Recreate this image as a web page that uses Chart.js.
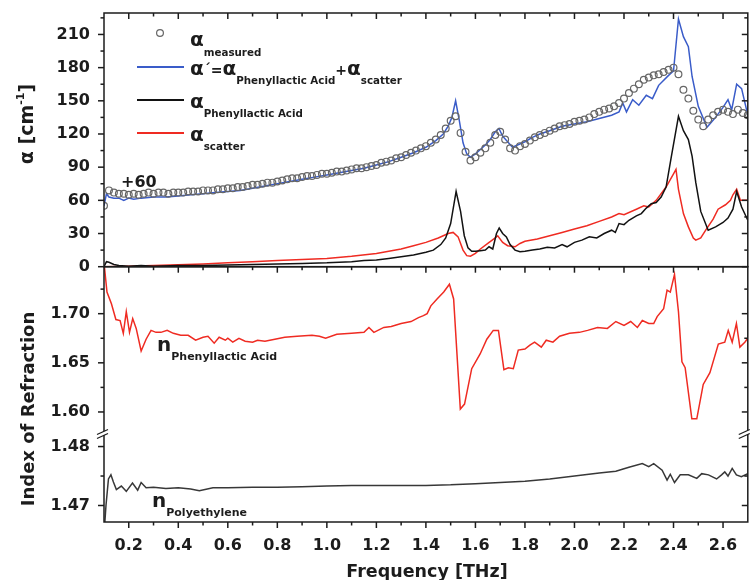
<!DOCTYPE html>
<html>
<head>
<meta charset="utf-8">
<script src="https://cdn.jsdelivr.net/npm/chart.js@4.4.0/dist/chart.umd.min.js"></script>
<style>
  html, body { margin: 0; padding: 0; background: #fff; }
  canvas { display: block; width: 753px; height: 580px; }
</style>
</head>
<body>
<canvas id="chart" width="753" height="580"></canvas>
<script>
const FONT = '"DejaVu Sans", sans-serif';
const INK = '#1c1c1c';

// tick labels
const freqTicks = [0.2, 0.4, 0.6, 0.8, 1.0, 1.2, 1.4, 1.6, 1.8, 2.0, 2.2, 2.4, 2.6];
const alphaTicks = [0, 30, 60, 90, 120, 150, 180, 210];
const nUpperTicks = [1.60, 1.65, 1.70];
const nLowerTicks = [1.47, 1.48];

// alpha measured (circles)
const measFreq = [
  0.10, 0.12, 0.14, 0.16, 0.18, 0.20, 0.22, 0.24, 0.26, 0.28,
  0.30, 0.32, 0.34, 0.36, 0.38, 0.40, 0.42, 0.44, 0.46, 0.48,
  0.50, 0.52, 0.54, 0.56, 0.58, 0.60, 0.62, 0.64, 0.66, 0.68,
  0.70, 0.72, 0.74, 0.76, 0.78, 0.80, 0.82, 0.84, 0.86, 0.88,
  0.90, 0.92, 0.94, 0.96, 0.98, 1.00, 1.02, 1.04, 1.06, 1.08,
  1.10, 1.12, 1.14, 1.16, 1.18, 1.20, 1.22, 1.24, 1.26, 1.28,
  1.30, 1.32, 1.34, 1.36, 1.38, 1.40, 1.42, 1.44, 1.46, 1.48,
  1.50, 1.52, 1.54, 1.56, 1.58, 1.60, 1.62, 1.64, 1.66, 1.68,
  1.70, 1.72, 1.74, 1.76, 1.78, 1.80, 1.82, 1.84, 1.86, 1.88,
  1.90, 1.92, 1.94, 1.96, 1.98, 2.00, 2.02, 2.04, 2.06, 2.08,
  2.10, 2.12, 2.14, 2.16, 2.18, 2.20, 2.22, 2.24, 2.26, 2.28,
  2.30, 2.32, 2.34, 2.36, 2.38, 2.40, 2.42, 2.44, 2.46, 2.48,
  2.50, 2.52, 2.54, 2.56, 2.58, 2.60, 2.62, 2.64, 2.66, 2.68,
  2.70
];
const alphaMeasured = [
  55, 69, 67, 66, 66, 65, 66, 65, 66, 67,
  66, 67, 67, 66, 67, 67, 67, 68, 68, 68,
  69, 69, 69, 70, 70, 71, 71, 72, 72, 73,
  74, 74, 75, 76, 76, 77, 78, 79, 80, 80,
  81, 82, 82, 83, 84, 84, 85, 86, 86, 87,
  88, 89, 89, 90, 91, 92, 94, 95, 96, 98,
  99, 101, 103, 105, 107, 109, 112, 115, 119, 125,
  132, 136, 121, 104, 96, 99, 103, 107, 112, 119,
  122, 115, 107, 105, 109, 111, 114, 117, 119, 121,
  123, 125, 127, 128, 129, 131, 132, 133, 135, 138,
  140, 142, 143, 145, 148, 152, 157, 161, 165, 169,
  171, 173, 174, 176, 178, 180, 174, 160, 152, 141,
  133, 127, 133, 137, 140, 142, 140, 138, 142, 139,
  137
];

// alpha' = alpha PLA + alpha scatter (blue)
const sumFreq = [
  0.10, 0.11, 0.12, 0.14, 0.16, 0.18, 0.20, 0.22, 0.25, 0.30,
  0.35, 0.40, 0.45, 0.50, 0.55, 0.60, 0.65, 0.70, 0.75, 0.80,
  0.85, 0.90, 0.95, 1.00, 1.05, 1.10, 1.15, 1.20, 1.25, 1.30,
  1.35, 1.40, 1.44, 1.47, 1.49, 1.505, 1.52, 1.535, 1.55, 1.565,
  1.58, 1.60, 1.62, 1.64, 1.66, 1.68, 1.695, 1.71, 1.73, 1.75,
  1.77, 1.80, 1.83, 1.86, 1.90, 1.95, 2.00, 2.05, 2.10, 2.15,
  2.18, 2.195, 2.21, 2.235, 2.26, 2.29, 2.315, 2.34, 2.38, 2.40,
  2.42, 2.44, 2.46, 2.475, 2.50, 2.535, 2.57, 2.60, 2.62, 2.635,
  2.655, 2.675, 2.70
];
const alphaSum = [
  55, 66, 63, 62, 62, 60, 62, 61, 62, 63,
  63, 64, 65, 66, 67, 68, 69, 71, 73, 75,
  77, 79, 81, 83, 85, 87, 89, 92, 95, 99,
  103, 108, 114, 120, 127, 135, 150, 132, 112, 102,
  99, 102, 106, 110, 115, 122, 125, 118, 113, 108,
  110, 113, 117, 120, 123, 127, 129, 131, 134, 137,
  140, 148, 140, 151, 146, 155, 152, 164, 173, 177,
  224, 208, 199, 172, 145, 126, 135, 144, 151, 142,
  165, 161, 137
];

// alpha Phenyllactic Acid (black)
const plaFreq = [
  0.10, 0.11, 0.12, 0.14, 0.16, 0.20, 0.25, 0.30, 0.40, 0.50,
  0.60, 0.70, 0.80, 0.90, 1.00, 1.10, 1.15, 1.20, 1.25, 1.30,
  1.35, 1.40, 1.43, 1.46, 1.48, 1.50, 1.522, 1.54, 1.555, 1.57,
  1.585, 1.60, 1.62, 1.64, 1.655, 1.67, 1.685, 1.696, 1.71, 1.725,
  1.74, 1.76, 1.78, 1.80, 1.83, 1.86, 1.89, 1.92, 1.95, 1.97,
  2.00, 2.03, 2.06, 2.09, 2.12, 2.15, 2.165, 2.18, 2.20, 2.22,
  2.25, 2.27, 2.29, 2.31, 2.33, 2.35, 2.37, 2.39, 2.42, 2.44,
  2.46, 2.475, 2.49, 2.51, 2.54, 2.57, 2.60, 2.62, 2.64, 2.655,
  2.675, 2.70
];
const alphaPLA = [
  0, 4.5, 4, 2, 1, 0.5, 1, 0.5, 1, 1,
  1.5, 2, 2.5, 3, 3.5, 4.5, 5.5, 6, 7.5, 9,
  10.5, 13, 15, 20, 26, 39, 68, 50, 28, 17,
  14, 14, 14.5, 15, 18, 16, 30, 35, 30, 27,
  20, 15, 13.5, 14, 15, 16, 17.5, 17, 20, 18,
  22, 24, 27, 26, 30, 33, 31, 39, 38, 42,
  46, 48, 53, 57, 58, 63, 72, 98, 136, 123,
  115, 100, 76, 50, 33, 36, 40, 44, 52, 68,
  54, 42
];

// alpha scatter (red)
const scatFreq = [
  0.10, 0.20, 0.30, 0.40, 0.50, 0.60, 0.70, 0.80, 0.90, 1.00,
  1.10, 1.20, 1.25, 1.30, 1.35, 1.40, 1.45, 1.49, 1.51, 1.53,
  1.55, 1.565, 1.58, 1.60, 1.62, 1.65, 1.68, 1.69, 1.71, 1.73,
  1.76, 1.78, 1.80, 1.85, 1.90, 1.95, 2.00, 2.05, 2.10, 2.15,
  2.18, 2.20, 2.25, 2.28, 2.30, 2.33, 2.37, 2.40, 2.41, 2.42,
  2.44, 2.46, 2.48, 2.49, 2.51, 2.53, 2.56, 2.58, 2.61, 2.63,
  2.64, 2.655, 2.67, 2.70
];
const alphaScatter = [
  0, 0.5, 1, 1.8, 2.5, 3.5, 4.5, 5.5, 6.5, 7.5,
  9.5, 12, 14, 16, 19, 22, 26, 30, 31, 27,
  15, 10, 9.5, 12, 16, 21, 26, 28, 22, 19,
  18, 21, 23, 25, 28, 31, 34, 37, 41, 45,
  48, 47, 52, 55, 54, 60, 72, 84, 88, 70,
  48, 36, 26, 24, 26, 33, 43, 52, 56, 60,
  65, 70, 60, 60
];

// n Phenyllactic Acid (red, lower panel)
const nPLAFreq = [
  0.100, 0.112, 0.130, 0.148, 0.165, 0.178, 0.190, 0.203, 0.216, 0.230,
  0.250, 0.270, 0.290, 0.310, 0.330, 0.355, 0.380, 0.410, 0.440, 0.470,
  0.500, 0.520, 0.545, 0.565, 0.590, 0.600, 0.620, 0.645, 0.670, 0.700,
  0.720, 0.750, 0.790, 0.830, 0.880, 0.940, 0.970, 0.995, 1.040, 1.100,
  1.150, 1.170, 1.190, 1.230, 1.260, 1.300, 1.340, 1.370, 1.390, 1.405,
  1.420, 1.445, 1.472, 1.495, 1.512, 1.539, 1.556, 1.585, 1.619, 1.646,
  1.672, 1.693, 1.715, 1.733, 1.753, 1.773, 1.800, 1.820, 1.839, 1.866,
  1.886, 1.913, 1.940, 1.980, 2.020, 2.053, 2.093, 2.133, 2.167, 2.200,
  2.227, 2.254, 2.274, 2.300, 2.320, 2.334, 2.360, 2.374, 2.387, 2.404,
  2.420, 2.434, 2.447, 2.474, 2.494, 2.520, 2.547, 2.581, 2.607, 2.621,
  2.637, 2.654, 2.668, 2.688, 2.700
];
const nPLA = [
  1.752, 1.722, 1.710, 1.694, 1.693, 1.680, 1.702, 1.681, 1.695, 1.685,
  1.662, 1.674, 1.683, 1.681, 1.681, 1.683, 1.680, 1.678, 1.678, 1.673,
  1.676, 1.677, 1.670, 1.676, 1.673, 1.675, 1.671, 1.675, 1.672, 1.671,
  1.673, 1.672, 1.674, 1.676, 1.677, 1.678, 1.677, 1.675, 1.679, 1.680,
  1.681, 1.686, 1.681, 1.686, 1.687, 1.690, 1.692, 1.696, 1.698, 1.700,
  1.708, 1.715, 1.722, 1.730, 1.715, 1.603, 1.608, 1.644, 1.659, 1.674,
  1.683, 1.683, 1.643, 1.645, 1.644, 1.663, 1.664, 1.668, 1.671, 1.666,
  1.673, 1.671, 1.677, 1.680, 1.681, 1.683, 1.686, 1.685, 1.692, 1.688,
  1.692, 1.686, 1.693, 1.690, 1.690, 1.697, 1.705, 1.724, 1.722, 1.740,
  1.702, 1.651, 1.645, 1.593, 1.593, 1.628, 1.640, 1.669, 1.671, 1.683,
  1.671, 1.690, 1.666, 1.671, 1.675
];

// n Polyethylene (dark grey, bottom)
const nPEFreq = [
  0.100, 0.108, 0.118, 0.128, 0.138, 0.150, 0.170, 0.190, 0.215, 0.236,
  0.250, 0.270, 0.300, 0.350, 0.400, 0.450, 0.485, 0.540, 0.600, 0.700,
  0.800, 0.900, 1.000, 1.100, 1.200, 1.300, 1.400, 1.500, 1.600, 1.700,
  1.800, 1.900, 2.000, 2.100, 2.167, 2.220, 2.274, 2.300, 2.320, 2.354,
  2.374, 2.387, 2.404, 2.427, 2.460, 2.494, 2.514, 2.541, 2.574, 2.594,
  2.607, 2.620, 2.637, 2.654, 2.674, 2.700
];
const nPE = [
  1.4650, 1.4700, 1.4745, 1.4752, 1.4740, 1.4727, 1.4733, 1.4724, 1.4738, 1.4726,
  1.4739, 1.4730, 1.4731, 1.4729, 1.4730, 1.4728, 1.4725, 1.4730, 1.4730, 1.4731,
  1.4731, 1.4732, 1.4733, 1.4734, 1.4734, 1.4734, 1.4734, 1.4735, 1.4737, 1.4739,
  1.4741, 1.4745, 1.4750, 1.4755, 1.4758, 1.4765, 1.4771, 1.4766, 1.4771, 1.4760,
  1.4743, 1.4753, 1.4739, 1.4752, 1.4752, 1.4746, 1.4754, 1.4752, 1.4745, 1.4752,
  1.4757, 1.4750, 1.4763, 1.4752, 1.4749, 1.4754
];

const BLUE = '#3a5cc9';
const RED = '#ef2b22';
const BLACK = '#121212';

function pts(xs, ys) {
  return xs.map((x, i) => ({ x: x, y: ys[i] }));
}

function lineSet(data, axis, color, width) {
  return {
    data: data,
    yAxisID: axis,
    borderColor: color,
    borderWidth: width || 1.5,
    pointRadius: 0,
    tension: 0,
    fill: false
  };
}

// draws text made of pieces [text, size, dy], returns end x
function rich(ctx, x, y, parts) {
  ctx.textAlign = 'left';
  ctx.textBaseline = 'alphabetic';
  parts.forEach(([t, size, dy]) => {
    ctx.font = `bold ${size}px ${FONT}`;
    ctx.fillText(t, x, y + dy);
    x += ctx.measureText(t).width;
  });
  return x;
}

function richWidth(ctx, parts) {
  let w = 0;
  parts.forEach(([t, size]) => {
    ctx.font = `bold ${size}px ${FONT}`;
    w += ctx.measureText(t).width;
  });
  return w;
}

const axisArt = {
  id: 'axisArt',
  afterDraw(chart) {
    const { ctx, chartArea: a } = chart;
    const sx = chart.scales.x;
    const yA = chart.scales.yAlpha, yU = chart.scales.yNUpper, yL = chart.scales.yNLower;

    ctx.save();
    ctx.strokeStyle = INK;
    ctx.fillStyle = INK;
    ctx.lineWidth = 1.5;
    const line = (x1, y1, x2, y2) => {
      ctx.beginPath(); ctx.moveTo(x1, y1); ctx.lineTo(x2, y2); ctx.stroke();
    };

    // two panel frames
    ctx.strokeRect(a.left, a.top, a.right - a.left, yA.bottom - a.top);
    ctx.strokeRect(a.left, yU.top, a.right - a.left, a.bottom - yU.top);

    // x ticks: majors and the minors between them
    const xMinor = freqTicks.map(v => v + 0.1).filter(v => v < 2.65);
    const xTick = (v, len) => {
      const px = sx.getPixelForValue(v);
      line(px, a.top, px, a.top + len);
      line(px, yU.top, px, yU.top + len);
      line(px, a.bottom, px, a.bottom + len);
    };
    freqTicks.forEach(v => xTick(v, 6));
    xMinor.forEach(v => xTick(v, 3.5));

    // y ticks: outward on the left, inward on the right
    const yTick = (scale, v, len) => {
      const py = scale.getPixelForValue(v);
      line(a.left - len, py, a.left, py);
      line(a.right - len, py, a.right, py);
    };
    alphaTicks.forEach(v => yTick(yA, v, 6));
    alphaTicks.map(v => v + 15).forEach(v => yTick(yA, v, 3.5));
    nUpperTicks.forEach(v => yTick(yU, v, 6));
    nUpperTicks.map(v => v + 0.025).forEach(v => yTick(yU, v, 3.5));
    nLowerTicks.forEach(v => yTick(yL, v, 6));
    yTick(yL, 1.475, 3.5);

    // axis break marks
    const yb = yU.bottom;
    [a.left - 1, a.right - 3].forEach(cx => {
      ctx.fillStyle = '#fff';
      ctx.beginPath();
      ctx.moveTo(cx - 6, yb + 1.5); ctx.lineTo(cx + 5, yb - 3.5);
      ctx.lineTo(cx + 5, yb + 0.5); ctx.lineTo(cx - 6, yb + 5.5);
      ctx.closePath(); ctx.fill();
      ctx.lineWidth = 1.3;
      line(cx - 6, yb + 1.5, cx + 5, yb - 3.5);
      line(cx - 6, yb + 5.5, cx + 5, yb + 0.5);
      ctx.lineWidth = 1.5;
    });
    ctx.fillStyle = INK;

    // tick labels
    ctx.font = `bold 16px ${FONT}`;
    ctx.textAlign = 'right';
    ctx.textBaseline = 'middle';
    alphaTicks.forEach(v => ctx.fillText(String(v), a.left - 14, yA.getPixelForValue(v)));
    nUpperTicks.forEach(v => ctx.fillText(v.toFixed(2), a.left - 14, yU.getPixelForValue(v)));
    nLowerTicks.forEach(v => ctx.fillText(v.toFixed(2), a.left - 14, yL.getPixelForValue(v)));
    ctx.textAlign = 'center';
    ctx.textBaseline = 'alphabetic';
    freqTicks.forEach(v => ctx.fillText(v.toFixed(1), sx.getPixelForValue(v), a.bottom + 28));

    // axis titles
    ctx.font = `bold 17.5px ${FONT}`;
    ctx.fillText('Frequency [THz]', 427, 577);

    const alphaTitle = [['\u03b1 [cm', 19, 0], ['-1', 11, -9], [']', 19, 0]];
    ctx.save();
    ctx.translate(33, 124);
    ctx.rotate(-Math.PI / 2);
    rich(ctx, -richWidth(ctx, alphaTitle) / 2, 0, alphaTitle);
    ctx.restore();

    ctx.save();
    ctx.translate(34, 409);
    ctx.rotate(-Math.PI / 2);
    ctx.font = `bold 18px ${FONT}`;
    ctx.textAlign = 'center';
    ctx.fillText('Index of Refraction', 0, 0);
    ctx.restore();

    // legend
    ctx.strokeStyle = '#666';
    ctx.lineWidth = 1.2;
    ctx.beginPath(); ctx.arc(160, 33, 3.4, 0, Math.PI * 2); ctx.stroke();
    [[BLUE, 67], [BLACK, 100], [RED, 133]].forEach(([c, y]) => {
      ctx.strokeStyle = c; ctx.lineWidth = 1.8;
      line(137, y, 184, y);
    });
    ctx.fillStyle = INK;
    rich(ctx, 190, 46, [['\u03b1', 20, 0], ['measured', 10.3, 10]]);
    rich(ctx, 190, 75, [['\u03b1', 20, 0], ['\u00b4', 14, -1], ['=', 14, 0], ['\u03b1', 20, 0],
      ['Phenyllactic Acid', 10.3, 8.5], ['+', 14, 0], ['\u03b1', 20, 0], ['scatter', 10.3, 8.5]]);
    rich(ctx, 190, 108, [['\u03b1', 20, 0], ['Phenyllactic Acid', 10.3, 8.5]]);
    rich(ctx, 190, 141, [['\u03b1', 20, 0], ['scatter', 10.3, 8.5]]);

    // annotations
    rich(ctx, 121, 187, [['+60', 16, 0]]);
    rich(ctx, 157, 351, [['n', 20, 0], ['Phenyllactic Acid', 11, 9]]);
    rich(ctx, 152, 507, [['n', 20, 0], ['Polyethylene', 11, 8.5]]);

    ctx.restore();
  }
};

const hidden = {
  ticks: { display: false },
  grid: { display: false, drawTicks: false },
  border: { display: false },
  title: { display: false }
};

new Chart(document.getElementById('chart'), {
  type: 'line',
  data: {
    datasets: [
      {
        data: pts(measFreq, alphaMeasured),
        yAxisID: 'yAlpha',
        showLine: false,
        pointRadius: 3.4,
        pointBorderWidth: 1.2,
        pointBorderColor: '#666',
        pointBackgroundColor: 'rgba(255,255,255,0)'
      },
      lineSet(pts(sumFreq, alphaSum), 'yAlpha', BLUE),
      lineSet(pts(plaFreq, alphaPLA), 'yAlpha', BLACK),
      lineSet(pts(scatFreq, alphaScatter), 'yAlpha', RED),
      lineSet(pts(nPLAFreq, nPLA), 'yNUpper', RED),
      lineSet(pts(nPEFreq, nPE), 'yNLower', '#383838')
    ]
  },
  options: {
    responsive: false,
    animation: false,
    devicePixelRatio: 1,
    events: [],
    layout: { padding: { top: 13, right: 1, left: 0, bottom: 0 } },
    plugins: { legend: { display: false }, tooltip: { enabled: false } },
    scales: {
      x: Object.assign({
        type: 'linear', min: 0.1, max: 2.7,
        afterFit: s => { s.height = 58; }
      }, hidden),
      yAlpha: Object.assign({
        type: 'linear', position: 'left', stack: 'panels', stackWeight: 253.7, weight: 3,
        min: 0, max: 229.4,
        afterFit: s => { s.width = 104; }
      }, hidden),
      yNUpper: Object.assign({
        type: 'linear', position: 'left', stack: 'panels', stackWeight: 166.3, weight: 2,
        min: 1.5786, max: 1.7478,
        afterFit: s => { s.width = 104; }
      }, hidden),
      yNLower: Object.assign({
        type: 'linear', position: 'left', stack: 'panels', stackWeight: 89, weight: 1,
        min: 1.4672, max: 1.4823,
        afterFit: s => { s.width = 104; }
      }, hidden)
    }
  },
  plugins: [axisArt]
});
</script>
</body>
</html>
